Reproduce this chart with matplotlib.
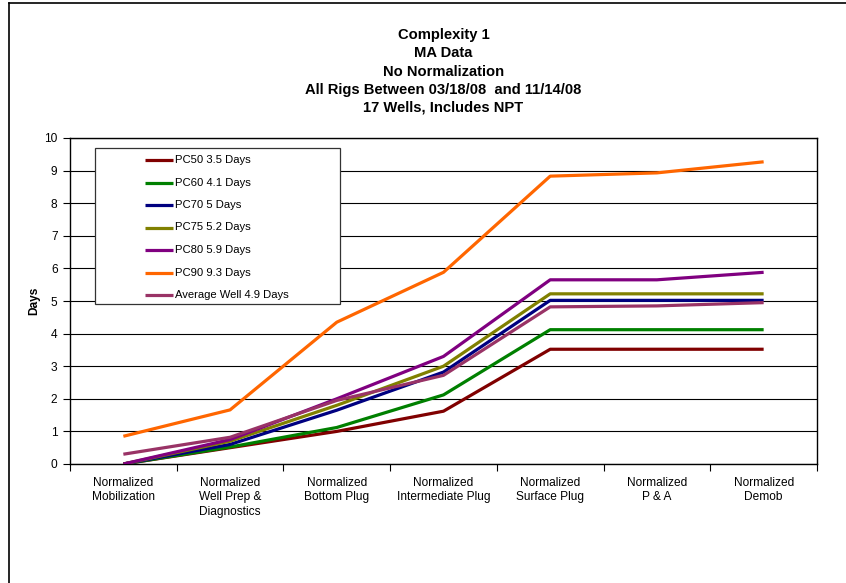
import matplotlib
matplotlib.use("Agg")
import matplotlib.pyplot as plt
from matplotlib.lines import Line2D
from matplotlib.patches import Rectangle

plt.rcParams['font.family'] = ['Liberation Sans', 'DejaVu Sans']

categories = ["Normalized\nMobilization", "Normalized\nWell Prep &\nDiagnostics",
              "Normalized\nBottom Plug", "Normalized\nIntermediate Plug",
              "Normalized\nSurface Plug", "Normalized\nP & A", "Normalized\nDemob"]

series_names = ["PC50 3.5 Days", "PC60 4.1 Days", "PC70 5 Days", "PC75 5.2 Days",
                "PC80 5.9 Days", "PC90 9.3 Days", "Average Well 4.9 Days"]
pc50 = [0.0, 0.5, 1.0, 1.62, 3.52, 3.52, 3.52]
pc60 = [0.0, 0.52, 1.12, 2.12, 4.12, 4.12, 4.12]
pc70 = [0.0, 0.6, 1.65, 2.82, 5.02, 5.02, 5.02]
pc75 = [0.0, 0.7, 1.8, 3.0, 5.22, 5.22, 5.22]
pc80 = [0.0, 0.75, 2.0, 3.3, 5.65, 5.65, 5.88]
pc90 = [0.85, 1.66, 4.35, 5.88, 8.83, 8.93, 9.27]
avg = [0.3, 0.82, 1.95, 2.72, 4.82, 4.85, 4.95]
colors = ["#800000", "#008000", "#000080", "#808000", "#800080", "#FF6600", "#993366"]

title_lines = ["Complexity 1", "MA Data", "No Normalization",
               "All Rigs Between 03/18/08  and 11/14/08", "17 Wells, Includes NPT"]

W, H = 846, 583
fig = plt.figure(figsize=(W/100, H/100), dpi=100)
ax = fig.add_axes([70/W, 1-464/H, (817-70)/W, (464-138)/H])

data = [pc50, pc60, pc70, pc75, pc80, pc90, avg]
x = list(range(len(categories)))
for name, vals, c in zip(series_names, data, colors):
    ax.plot(x, vals, color=c, lw=2.3, solid_capstyle='butt', label=name, zorder=3)

ax.set_xlim(-0.5, len(categories) - 0.5)
ax.set_ylim(0, 10)
ax.set_yticks(range(0, 11))
ax.set_xticks([i + 0.5 for i in range(-1, len(categories))], minor=False)
ax.set_xticklabels([])
ax.set_xticks(x, minor=True)
ax.set_xticklabels(categories, minor=True, fontsize=8.6)
ax.tick_params(axis='x', which='minor', length=0, pad=9)
ax.tick_params(axis='x', which='major', length=5, direction='out', width=0.8)
ax.tick_params(axis='y', length=5, direction='out', width=0.8, labelsize=8.6, pad=4)
for lab in ax.get_xticklabels(minor=True):
    lab.set_linespacing(1.3)
ax.yaxis.grid(True, color='black', lw=0.8)
ax.set_axisbelow(True)
for s in ax.spines.values():
    s.set_linewidth(1.0)
    s.set_color('black')

ax.set_ylabel("Days", fontsize=8.6, fontweight='bold', labelpad=3)

# Legend box drawn in figure pixel coordinates
def fx(px):
    return px / W

def fy(py):
    return 1 - py / H

fig.add_artist(Rectangle((fx(95), fy(304)), fx(340) - fx(95), fy(148) - fy(304),
                         transform=fig.transFigure, facecolor='white',
                         edgecolor='#333333', lw=0.9, zorder=5))
for i, (name, c) in enumerate(zip(series_names, colors)):
    yy = 160 + i * 22.5
    fig.add_artist(Line2D([fx(145), fx(173)], [fy(yy), fy(yy)], transform=fig.transFigure,
                          color=c, lw=2.3, solid_capstyle='butt', zorder=6))
    fig.text(fx(175), fy(yy), name, ha='left', va='center', fontsize=8.1, zorder=6)

ys = [35, 53, 72, 90, 108]
for t, yy in zip(title_lines, ys):
    fig.text(443.5/W, fy(yy), t, ha='center', va='center', fontsize=10.6, fontweight='bold')

fig.add_artist(Line2D([fx(9), fx(9)], [0, fy(3)], transform=fig.transFigure, color='black', lw=1.2))
fig.add_artist(Line2D([fx(9), 1], [fy(3), fy(3)], transform=fig.transFigure, color='black', lw=1.2))

fig.savefig("out.png", dpi=100)
